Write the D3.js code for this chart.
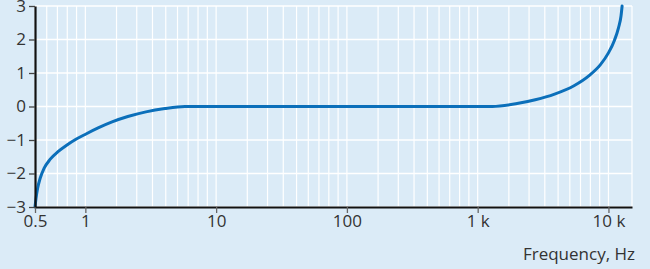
<!DOCTYPE html>
<html>
<head>
<meta charset="utf-8">
<script src="https://cdn.jsdelivr.net/npm/d3@7"></script>
<style>
  html, body { margin: 0; padding: 0; background: #dbebf7; }
  svg { display: block; }
  text { font-family: "Open Sans", sans-serif; fill: #333; }
</style>
</head>
<body>
<svg id="chart" width="650" height="269"></svg>
<script>
// ---- data ----
const frequencyHz = [0.5, 0.508, 0.521, 0.542, 0.576, 0.63, 0.706, 0.797, 0.893, 1.015, 1.34, 1.82, 2.52, 3.56, 4.93, 6.69, 10, 100, 1000, 1400, 2310, 3370, 4720, 6380, 7900, 9090, 10000, 11500, 12600, 13340, 13670];
const deviation   = [-3, -2.75, -2.45, -2.15, -1.85, -1.58, -1.35, -1.15, -0.98, -0.82, -0.64, -0.46, -0.3, -0.16, -0.06, 0, 0, 0, 0, 0, 0.08, 0.2, 0.37, 0.62, 0.93, 1.25, 1.6, 1.98, 2.35, 2.7, 3.0];
const xTickValues = [0.5, 1, 10, 100, 1000, 10000];
const xTickLabels = ["0.5", "1", "10", "100", "1 k", "10 k"];
const yTickValues = [-3, -2, -1, 0, 1, 2, 3];
const yTickLabels = ["\u22123", "\u22122", "\u22121", "0", "1", "2", "3"];
const gridMultipliers = [1, 2, 3, 4, 5, 6, 7, 8, 9];
const xDomain = [0.5, 17000];
const xTitle = "Frequency, Hz";

// ---- layout ----
const W = 650, H = 269;
const margin = {left: 35, top: 6, right: 18, bottom: 62};
const pw = W - margin.left - margin.right;
const ph = H - margin.top - margin.bottom;
const fontSize = 17;

// frequency axis of the original: log-like, slightly compressed within each decade
const blend = 0.67;
function warp(v) {
  const d = Math.floor(Math.log10(v) + 1e-9);
  const m = v / Math.pow(10, d);
  return d + blend * Math.log10(m) + (1 - blend) * (m - 1) / 9;
}
const xs = d3.scaleLinear().domain(xDomain.map(warp)).range([0, pw]);
const x = v => xs(warp(v));
const y = d3.scaleLinear().domain([-3, 3]).range([ph, 0]);

const svg = d3.select("#chart");
const g = svg.append("g").attr("transform", `translate(${margin.left},${margin.top})`);

// grid values
const gridVals = [];
for (let d = -1; d <= 4; d++) {
  gridMultipliers.forEach(m => {
    const v = m * Math.pow(10, d);
    if (v >= xDomain[0] - 1e-9 && v <= xDomain[1]) gridVals.push(v);
  });
}
gridVals.push(xDomain[1]);

g.append("g").selectAll("line").data(gridVals).join("line")
  .attr("x1", d => x(d)).attr("x2", d => x(d))
  .attr("y1", 0).attr("y2", ph)
  .attr("stroke", "#fff").attr("stroke-width", 1.2);
g.append("g").selectAll("line").data(yTickValues).join("line")
  .attr("x1", 0).attr("x2", pw)
  .attr("y1", d => y(d)).attr("y2", d => y(d))
  .attr("stroke", "#fff").attr("stroke-width", 1.3);

// curve
const line = d3.line()
  .x((d, i) => x(frequencyHz[i]))
  .y(d => y(d))
  .curve(d3.curveMonotoneX);
g.append("path").datum(deviation)
  .attr("d", line)
  .attr("fill", "none")
  .attr("stroke", "#0b6fba")
  .attr("stroke-width", 3)
  .attr("stroke-linecap", "round");

// axes
const xAxis = d3.axisBottom(xs)
  .tickValues(xTickValues.map(warp))
  .tickFormat((d, i) => xTickLabels[i])
  .tickSizeInner(6).tickSizeOuter(0).tickPadding(2);
const gx = g.append("g").attr("transform", `translate(0,${ph})`).call(xAxis);
gx.select(".domain").attr("stroke", "#111").attr("stroke-width", 2.2);
gx.selectAll(".tick line").attr("stroke", "#666").attr("stroke-width", 1.3);
gx.selectAll(".tick text").attr("font-size", fontSize).attr("fill", "#333").attr("font-family", "Open Sans, sans-serif");

const yAxis = d3.axisLeft(y)
  .tickValues(yTickValues)
  .tickFormat((d, i) => yTickLabels[i])
  .tickSizeInner(6).tickSizeOuter(0).tickPadding(3);
const gy = g.append("g").call(yAxis);
gy.select(".domain").attr("stroke", "#111").attr("stroke-width", 2.2);
gy.selectAll(".tick line").attr("stroke", "#444").attr("stroke-width", 1.3);
gy.selectAll(".tick text").attr("font-size", fontSize).attr("fill", "#333").attr("font-family", "Open Sans, sans-serif");

svg.append("text")
  .attr("x", 635).attr("y", 260)
  .attr("text-anchor", "end")
  .attr("font-size", fontSize)
  .text(xTitle);
</script>
</body>
</html>
